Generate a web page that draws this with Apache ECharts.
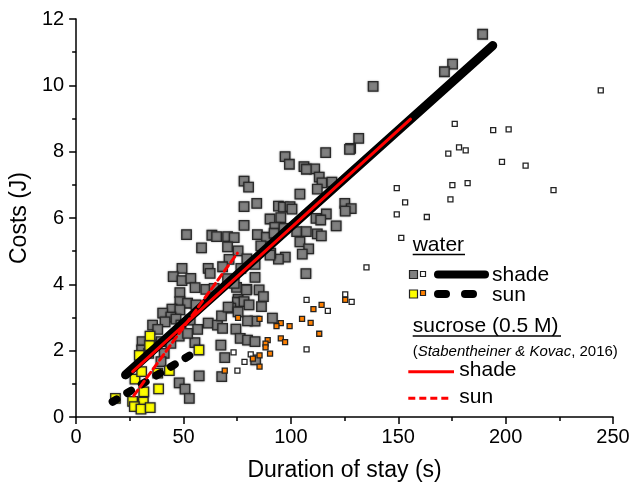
<!DOCTYPE html>
<html><head><meta charset="utf-8">
<script src="https://cdn.jsdelivr.net/npm/echarts@6/dist/echarts.min.js"></script>
<style>html,body{margin:0;padding:0;background:#fff}#c{width:634px;height:493px}</style>
</head><body><div id="c"></div>
<script>
// ---- data ----
const xTicks = [0, 50, 100, 150, 200, 250];
const yTicks = [0, 2, 4, 6, 8, 10, 12];

const waterShade = [[131.6,8.40],[127.8,8.10],[116.2,7.97],[97.3,7.85],[99.3,7.62],[106.1,7.55],[111.1,7.48],[107.2,7.47],[113.2,7.23],[114.5,7.06],[119.1,7.08],[112.3,6.87],[78.2,7.11],[80.3,6.93],[104.2,6.72],[78.2,6.34],[84.1,6.44],[94.2,6.36],[96.5,6.33],[99.6,6.34],[100.5,6.27],[125.1,6.44],[128.1,6.28],[125.3,6.21],[116.5,6.12],[111.7,5.99],[113.9,5.94],[90.3,5.97],[95.3,6.01],[92.5,5.72],[121.1,5.76],[78.2,5.78],[84.4,5.50],[88.6,5.42],[92.2,5.54],[96.8,5.69],[102.7,5.59],[107.2,5.59],[112.3,5.52],[114.2,5.46],[104.2,5.28],[108.3,5.07],[105.3,4.91],[97.4,4.82],[94.2,4.76],[86.0,5.16],[90.6,4.94],[107.0,4.32],[51.4,5.50],[58.4,5.10],[63.2,5.48],[65.4,5.44],[70.5,5.44],[73.6,5.41],[70.5,5.13],[75.4,5.01],[71.2,4.75],[79.5,4.77],[83.3,4.60],[76.7,4.48],[68.2,4.53],[61.5,4.48],[62.4,4.33],[49.3,4.48],[45.2,4.23],[49.3,4.11],[53.4,4.18],[55.4,3.90],[60.4,3.85],[64.3,3.88],[70.5,4.17],[74.7,3.91],[79.5,3.85],[83.3,4.21],[85.2,3.83],[87.2,3.63],[48.3,3.75],[75.4,3.55],[189.3,11.54],[175.3,10.64],[171.5,10.41],[138.3,9.97],[127.3,8.07],[90.3,4.88],[79.3,3.83],[86.3,3.33],[75.1,3.46],[78.2,3.48],[80.5,3.38],[72.0,3.28],[91.4,2.98],[83.3,2.89],[79.8,2.90],[74.4,2.65],[76.4,2.37],[79.8,2.32],[83.3,2.27],[83.6,1.72],[73.6,4.03],[48.3,3.48],[51.9,3.43],[55.8,3.38],[44.6,3.25],[48.3,3.23],[40.3,3.13],[44.1,3.01],[41.4,2.87],[46.5,2.95],[48.8,2.77],[53.1,2.92],[56.6,2.64],[61.5,2.83],[65.8,2.77],[67.7,3.05],[70.8,3.31],[75.4,3.17],[68.2,2.67],[35.6,2.77],[38.0,2.64],[30.7,2.27],[39.5,2.27],[34.9,2.17],[44.1,2.22],[48.0,2.44],[55.3,2.24],[51.9,2.52],[41.0,1.92],[30.5,2.02],[67.4,2.17],[69.2,1.79],[67.8,1.22],[57.3,1.24],[48.0,1.03],[50.7,0.84],[52.7,0.56],[39.5,1.67],[33.8,1.92]];

const waterSun = [[34.4,2.44],[34.2,2.15],[29.4,1.86],[27.4,1.14],[30.5,1.37],[38.0,1.32],[43.4,1.40],[57.2,2.02],[38.4,0.85],[31.5,0.76],[26.3,0.47],[31.3,0.45],[27.1,0.31],[30.2,0.24],[34.5,0.28],[18.3,0.56]];

const sucroseSun = [[125.3,3.53],[114.3,3.38],[110.5,3.25],[105.2,2.96],[109.2,2.84],[95.3,2.83],[93.3,2.74],[99.4,2.74],[113.2,2.51],[85.4,2.96],[75.4,2.99],[95.3,2.37],[97.3,2.26],[89.2,2.32],[88.2,2.21],[88.2,2.10],[90.3,1.91],[85.4,1.86],[82.3,1.76],[85.4,1.52],[69.2,1.40]];

const sucroseShade = [[244.3,9.85],[176.3,8.84],[194.2,8.65],[201.4,8.67],[178.3,8.13],[181.4,8.04],[173.3,7.94],[198.3,7.69],[209.3,7.58],[175.2,6.99],[182.3,7.05],[149.3,6.90],[153.2,6.47],[174.3,6.56],[149.3,6.11],[163.3,6.03],[222.3,6.84],[151.4,5.40],[135.2,4.51],[125.3,3.70],[128.3,3.47],[107.3,3.53],[117.2,3.20],[107.3,2.04],[73.3,1.95],[81.3,1.89],[78.4,1.66],[75.1,1.40]];

const waterShadeFit = [[23, 1.27], [194, 11.2]];
const waterSunFit = [[17, 0.46], [55.8, 1.97]];
const sucroseShadeFit = [[26.3, 1.37], [155.7, 8.98]];
const sucroseSunFit = [[26.8, 0.64], [75.1, 4.94]];

// ---- chart ----
const FONT = '"Liberation Sans", Arial, sans-serif';
const chart = echarts.init(document.getElementById('c'), null, {renderer: 'canvas'});

function txt(x, y, t, size, extra) {
  return Object.assign({type: 'text', z: 100, style: {x: x, y: y, text: t, font: size + 'px ' + FONT, fill: '#000', textAlign: 'left', textVerticalAlign: 'middle'}}, extra || {});
}
function rect(cx, cy, s, fill, stroke) {
  return {type: 'rect', z: 100, shape: {x: cx - s/2, y: cy - s/2, width: s, height: s}, style: {fill: fill, stroke: stroke, lineWidth: 1.2}};
}
function seg(x1, y1, x2, y2, color, w, dash, cap) {
  return {type: 'line', z: 100, shape: {x1: x1, y1: y1, x2: x2, y2: y2}, style: {stroke: color, lineWidth: w, lineDash: dash || null, lineCap: cap || 'butt'}};
}

const legend = [
  txt(412.7, 245, 'water', 21),
  seg(412.7, 254.5, 465, 254.5, '#000', 1.5),
  rect(413.5, 274.5, 8, '#808080', '#222'),
  rect(423, 274, 5, '#fff', '#222'),
  seg(438, 274.5, 485, 274.5, '#000', 8, null, 'round'),
  txt(492, 275.6, 'shade', 21),
  rect(413.5, 294, 8, '#ffff00', '#222'),
  rect(423, 293, 5, '#ff8000', '#222'),
  seg(438, 294, 446, 294, '#000', 8, null, 'round'),
  seg(465, 294, 473, 294, '#000', 8, null, 'round'),
  txt(492, 295, 'sun', 21),
  txt(412.7, 326, 'sucrose (0.5 M)', 21),
  seg(412.7, 336, 561, 336, '#000', 1.5),
  {type: 'text', z: 100, style: {x: 412.7, y: 351.5, text: '({i|Stabentheiner & Kovac}, 2016)', font: '15px ' + FONT, fill: '#000', textAlign: 'left', textVerticalAlign: 'middle', rich: {i: {fontStyle: 'italic', fontSize: 15, fontFamily: FONT}}}},
  seg(408.3, 371.7, 454, 371.7, '#ff0000', 3),
  txt(459.3, 370.6, 'shade', 21),
  seg(408.3, 398.3, 452, 398.3, '#ff0000', 3, [7, 4]),
  txt(459.3, 397.3, 'sun', 21)
];

function scatter(name, data, size, fill, stroke, z, shadow) {
  return {name: name, type: 'scatter', data: data, symbol: 'rect', symbolSize: size, z: z, silent: true,
    itemStyle: {color: fill, borderColor: stroke, borderWidth: 1.3, opacity: 1,
      shadowBlur: shadow ? 2 : 0, shadowColor: 'rgba(0,0,0,0.35)'}};
}
function fit(data, color, width, dash, z) {
  return {type: 'line', data: data, symbol: 'none', z: z, silent: true,
    lineStyle: {color: color, width: width, type: dash || 'solid', cap: 'round'}};
}

chart.setOption({
  animation: false,
  backgroundColor: '#fff',
  grid: {left: 75, right: 21, top: 19, bottom: 76, containLabel: false},
  xAxis: {
    type: 'value', min: xTicks[0], max: xTicks[xTicks.length - 1], interval: 50,
    name: 'Duration of stay (s)', nameLocation: 'middle', nameGap: 42,
    nameTextStyle: {fontFamily: FONT, fontSize: 23, color: '#000'},
    axisLine: {show: true, onZero: false, lineStyle: {color: '#000', width: 1.5}},
    axisTick: {show: true, inside: false, length: 7, lineStyle: {color: '#000', width: 1.5}},
    minorTick: {show: true, splitNumber: 2, length: 4, lineStyle: {color: '#000', width: 1.5}},
    axisLabel: {fontFamily: FONT, fontSize: 20, color: '#000', margin: 10},
    splitLine: {show: false}
  },
  yAxis: {
    type: 'value', min: yTicks[0], max: yTicks[yTicks.length - 1], interval: 2,
    name: 'Costs (J)', nameLocation: 'middle', nameGap: 37,
    nameTextStyle: {fontFamily: FONT, fontSize: 23, color: '#000'},
    axisLine: {show: true, onZero: false, lineStyle: {color: '#000', width: 1.5}},
    axisTick: {show: true, inside: false, length: 7, lineStyle: {color: '#000', width: 1.5}},
    minorTick: {show: true, splitNumber: 2, length: 4, lineStyle: {color: '#000', width: 1.5}},
    axisLabel: {fontFamily: FONT, fontSize: 20, color: '#000', margin: 12},
    splitLine: {show: false}
  },
  graphic: legend,
  series: [
    scatter('water shade', waterShade, 9.5, '#808080', '#2a2a2a', 2, true),
    scatter('water sun', waterSun, 9.5, '#ffff00', '#2a2a2a', 3, true),
    scatter('sucrose shade', sucroseShade, 5, '#ffffff', '#222', 3, false),
    scatter('sucrose sun', sucroseSun, 5, '#ff8000', '#222', 3, false),
    fit(waterShadeFit, '#000', 9, 'solid', 5),
    fit(waterSunFit, '#000', 8, [4.5, 12.5], 5),
    fit(sucroseShadeFit, '#ff0000', 3, 'solid', 6),
    fit(sucroseSunFit, '#ff0000', 3, [7, 4], 6)
  ]
});
</script></body></html>
